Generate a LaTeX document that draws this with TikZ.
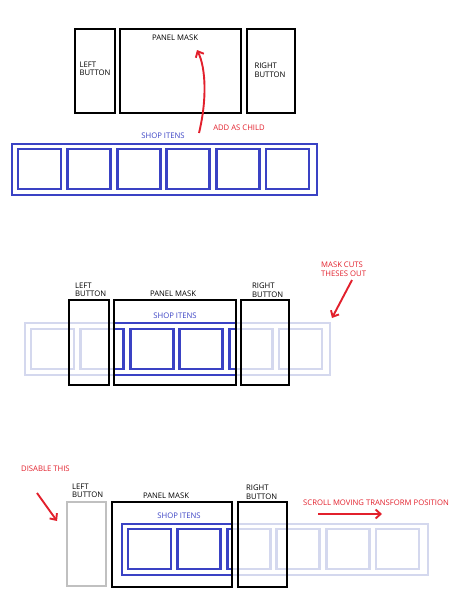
\documentclass[tikz,border=0pt]{standalone}
\usepackage{fontspec}
\setmainfont{Open Sans}
\usetikzlibrary{arrows.meta}
\definecolor{shopblue}{RGB}{58,66,196}
\definecolor{fadeblue}{RGB}{212,216,238}
\definecolor{notered}{RGB}{226,32,44}
\definecolor{offgrey}{RGB}{192,192,192}
\begin{document}
\begin{tikzpicture}[x=1pt,y=-1pt,
	box/.style={draw=black,line width=2.8pt},
	strip/.style={draw=shopblue,line width=2.8pt},
	faded/.style={draw=fadeblue,line width=2.8pt},
	lbl/.style={font=\fontsize{7.7}{8.5}\selectfont,align=left,inner sep=0pt},
	note/.style={lbl,text=notered},
	redarrow/.style={draw=notered,line width=1.9pt,-{Straight Barb[length=5pt,width=9pt]}}]
	\useasboundingbox (0,0) rectangle (474,611);
	
	% first: before adding
	\draw [box] (75,29) rectangle (115,113); \node [lbl] (lb1) at (95,69) {LEFT\\BUTTON};
	\draw [box] (120,29) rectangle (241,113); \node [lbl] (pm1) at (175,38) {PANEL MASK};
	\draw [box] (247,29) rectangle (295,113); \node [lbl] (rb1) at (270,70) {RIGHT\\BUTTON};
	
	\node [lbl,text=shopblue] (si1) at (163,136) {SHOP ITENS};
	\draw [strip] (12,144) rectangle (317,195);
	\foreach \i in {0,...,5} \draw [strip] (18+49.6*\i,149) rectangle ++(43,40);
	
	\node [note] (add) at (239,128) {ADD AS CHILD};
	\coordinate (addfrom) at (199,133); \coordinate (addto) at (197,50);
	\draw [redarrow] (addfrom) .. controls (207,100) and (206,68) .. (addto);
	
	% second: mask cuts
	\draw [faded] (25,323) rectangle (330,375);
	\foreach \i in {0,...,5} \draw [faded] (31+49.6*\i,329) rectangle ++(43,40);
	\begin{scope}
		\clip (114,300) rectangle (236,385);
		\draw [strip] (25,323) rectangle (330,375);
		\foreach \i in {0,...,5} \draw [strip] (31+49.6*\i,329) rectangle ++(43,40);
	\end{scope}
	\draw [box] (69,300) rectangle (109,385); \node [lbl,anchor=west] (lb2) at (75,290) {LEFT\\BUTTON};
	\draw [box] (114,300) rectangle (236,385); \node [lbl] (pm2) at (173,294) {PANEL MASK};
	\draw [box] (241,300) rectangle (289,385); \node [lbl,anchor=west] (rb2) at (252,290) {RIGHT\\BUTTON};
	\node [lbl,text=shopblue] (si2) at (175,316) {SHOP ITENS};
	
	\node [note,anchor=west] (cuts) at (321,269) {MASK CUTS\\THESES OUT};
	\coordinate (cutsfrom) at (352,280); \coordinate (cutsto) at (332,318);
	\draw [redarrow] (cutsfrom) -- (cutsto);
	
	% third: scrolling
	\node [note,anchor=west] (dis) at (21,469) {DISABLE THIS};
	\coordinate (disfrom) at (37,493); \coordinate (disto) at (57,521);
	\draw [redarrow] (disfrom) -- (disto);
	
	\draw [faded] (122,524) rectangle (428,575);
	\foreach \i in {0,...,5} \draw [faded] (128+49.6*\i,529) rectangle ++(43,40);
	\begin{scope}
		\clip (112,502) rectangle (232,587);
		\draw [strip] (122,524) rectangle (428,575);
		\foreach \i in {0,...,5} \draw [strip] (128+49.6*\i,529) rectangle ++(43,40);
	\end{scope}
	\draw [draw=offgrey,line width=2.2pt] (67,502) rectangle (106,586); \node [lbl,anchor=west] (lb3) at (72,491) {LEFT\\BUTTON};
	\draw [box] (112,502) rectangle (232,587); \node [lbl] (pm3) at (166,496) {PANEL MASK};
	\draw [box] (238,502) rectangle (287,587); \node [lbl,anchor=west] (rb3) at (246,492) {RIGHT\\BUTTON};
	\node [lbl,text=shopblue] (si3) at (179,516) {SHOP ITENS};
	
	\node [note,anchor=west] (scroll) at (303,503) {SCROLL MOVING TRANSFORM POSITION};
	\coordinate (scrollfrom) at (318,514); \coordinate (scrollto) at (382,514);
	\draw [redarrow] (scrollfrom) -- (scrollto);
\end{tikzpicture}
\end{document}
